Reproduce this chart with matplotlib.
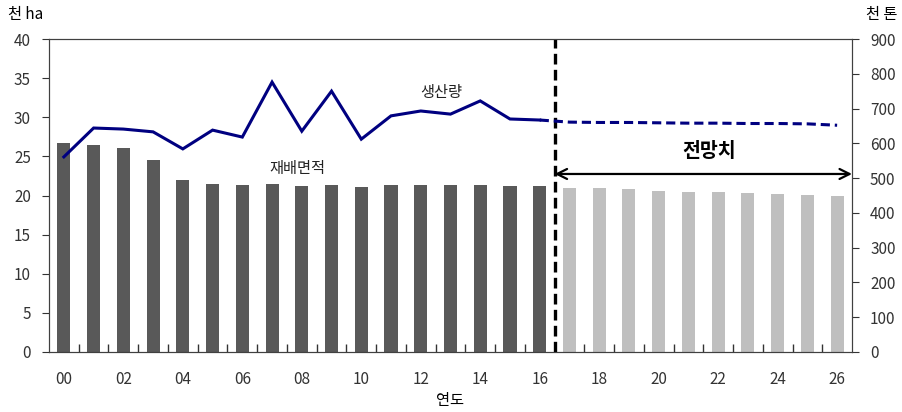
import matplotlib.pyplot as plt
import numpy as np

plt.rcParams['font.family'] = ['Noto Sans CJK KR', 'DejaVu Sans']

years = ["00", "01", "02", "03", "04", "05", "06", "07", "08", "09",
         "10", "11", "12", "13", "14", "15", "16", "17", "18", "19",
         "20", "21", "22", "23", "24", "25", "26"]
# 재배면적 (천 ha)
area = [26.7, 26.5, 26.1, 24.5, 22.0, 21.5, 21.3, 21.5, 21.2, 21.3,
        21.1, 21.3, 21.3, 21.3, 21.3, 21.2, 21.2, 20.9, 20.9, 20.8,
        20.6, 20.5, 20.5, 20.3, 20.2, 20.1, 19.9]
# 생산량 (천 톤)
prod = [561, 644, 641, 633, 584, 638, 618, 776, 635, 750,
        612, 679, 693, 684, 722, 670, 667, 661, 660, 660,
        659, 658, 658, 657, 657, 656, 652]
last_actual = 16

x = np.arange(len(years))
navy = "#000080"

fig = plt.figure(figsize=(9.02, 4.12), dpi=100)
fig.subplots_adjust(left=49/902, right=852/902, bottom=1-352/412, top=1-39/412)
ax = fig.add_subplot(111)
ax2 = ax.twinx()

colors = ["#595959" if i <= last_actual else "#bfbfbf" for i in x]
ax.bar(x, area, width=0.44, color=colors, zorder=2)

ax2.plot(x[:last_actual + 1], prod[:last_actual + 1], color=navy, lw=2.2,
         solid_joinstyle="miter", zorder=3)
ax2.plot(x[last_actual:], prod[last_actual:], color=navy, lw=2.2,
         dashes=(3, 1.6), zorder=3)

ax.set_xlim(-0.5, len(years) - 0.5)
ax.set_ylim(0, 40)
ax2.set_ylim(0, 900)
ax.set_yticks(range(0, 41, 5))
ax2.set_yticks(range(0, 901, 100))

ax.set_xticks(x[::2])
ax.set_xticklabels(years[::2])
ax.set_xticks(np.arange(0.5, len(years) - 1, 1), minor=True)
ax.tick_params(axis="x", which="major", length=0, pad=14, labelsize=11)
ax.tick_params(axis="x", which="minor", direction="in", length=6, width=1)
ax.tick_params(axis="y", direction="out", length=5, labelsize=11, pad=8)
ax2.tick_params(axis="y", direction="out", length=5, labelsize=11, pad=8)
for a in (ax, ax2):
    for s in a.spines.values():
        s.set_color("#404040")
    a.tick_params(colors="#333333", which="both")

# 전망 구간 구분선
ax.axvline(last_actual + 0.5, color="black", lw=2.4, dashes=(3.2, 1.6), zorder=4)
ax.annotate("", xy=(len(years) - 0.5, 22.75), xytext=(last_actual + 0.5, 22.75),
            arrowprops=dict(arrowstyle="<->", color="black", lw=1.6,
                            mutation_scale=18, shrinkA=0, shrinkB=0))
ax.text(21.7, 25.6, "전망치", fontsize=14, fontweight="bold",
        ha="center", va="center")
ax.text(12.68, 33.1, "생산량", fontsize=11, ha="center", va="center",
        color="#222222")
ax.text(7.84, 23.5, "재배면적", fontsize=11, ha="center", va="center",
        color="#222222")

fig.text(8/902, 1-14/412, "천 ha", fontsize=11, ha="left", va="center")
fig.text(897/902, 1-14/412, "천 톤", fontsize=11, ha="right", va="center")
fig.text(450/902, 1-400/412, "연도", fontsize=11, ha="center", va="center")

ax.set_zorder(ax2.get_zorder() - 1)
ax.patch.set_visible(False)

fig.savefig("out.png", dpi=100)
